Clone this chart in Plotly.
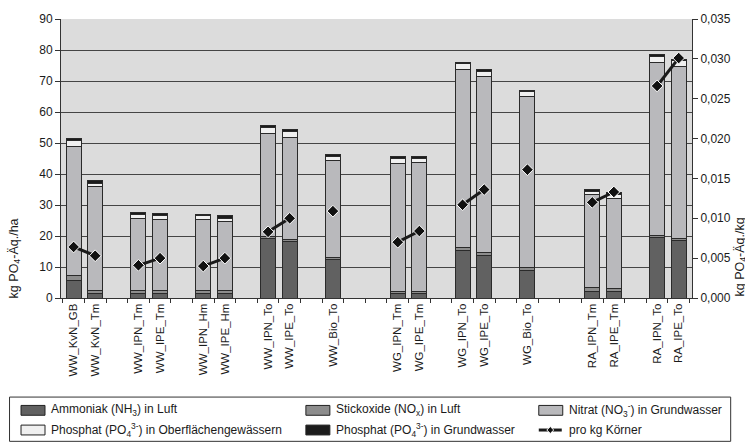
import plotly.graph_objects as go

# ---------------- data ----------------
categories = ["WW_KvN_GB", "WW_KvN_Tm", " ", "WW_IPN_Tm", "WW_IPE_Tm", "  ",
              "WW_IPN_Hm", "WW_IPE_Hm", "   ", "WW_IPN_To", "WW_IPE_To", "    ",
              "WW_Bio_To", "     ", "      ", "WG_IPN_Tm", "WG_IPE_Tm", "       ",
              "WG_IPN_To", "WG_IPE_To", "        ", "WG_Bio_To", "         ",
              "          ", "RA_IPN_Tm", "RA_IPE_Tm", "           ", "RA_IPN_To",
              "RA_IPE_To"]
N = None
ammoniak = [5.5, 1.5, N, 1.3, 1.5, N, 1.3, 1.5, N, 19.1, 18.1, N, 12.4, N, N,
            1.4, 1.4, N, 15.3, 13.7, N, 8.9, N, N, 2.2, 2.0, N, 19.5, 18.5]
stickoxide = [1.6, 1.0, N, 1.0, 0.9, N, 1.0, 0.8, N, 0.9, 0.8, N, 0.8, N, N,
              0.8, 0.7, N, 0.9, 1.0, N, 0.8, N, N, 1.2, 1.0, N, 0.8, 0.8]
nitrat = [41.9, 33.4, N, 23.4, 22.8, N, 23.1, 22.5, N, 33.2, 33.0, N, 31.2, N, N,
          41.3, 41.5, N, 57.5, 56.8, N, 55.4, N, N, 29.9, 29.1, N, 55.6, 55.4]
phosphat_ofw = [1.8, 1.1, N, 1.3, 1.4, N, 1.1, 1.0, N, 1.9, 1.8, N, 1.4, N, N,
                1.6, 1.4, N, 1.9, 1.6, N, 1.5, N, N, 1.1, 1.3, N, 1.9, 1.8]
phosphat_gw = [0.6, 0.8, N, 0.6, 0.6, N, 0.4, 0.7, N, 0.7, 0.6, N, 0.5, N, N,
               0.5, 0.6, N, 0.5, 0.6, N, 0.4, N, N, 0.7, 0.5, N, 0.7, 0.4]
pro_kg = [0.0064, 0.0053, N, 0.0041, 0.0050, N, 0.0040, 0.0050, N, 0.0083, 0.0100, N,
          0.0109, N, N, 0.0070, 0.0084, N, 0.0117, 0.0136, N, 0.0161, N, N,
          0.0120, 0.0133, N, 0.0266, 0.0301]

left_ticks = [0, 10, 20, 30, 40, 50, 60, 70, 80, 90]
right_ticks = [0.000, 0.005, 0.010, 0.015, 0.020, 0.025, 0.030, 0.035]

names = ["Ammoniak (NH<sub>3</sub>) in Luft",
         "Stickoxide (NO<sub>x</sub>) in Luft",
         "Nitrat (NO<sub>3</sub><sup>-</sup>) in Grundwasser",
         "Phosphat (PO<sub>4</sub><sup>3-</sup>) in Oberflächengewässern",
         "Phosphat (PO<sub>4</sub><sup>3-</sup>) in Grundwasser",
         "pro kg Körner"]
colors = ["#616161", "#8d8d8d", "#b9b9bc", "#f0f0f0", "#1c1c1c"]

# ---------------- layout geometry ----------------
W, H = 745, 448
L, R, T, B = 61, 692.3, 14.7, 298.3
FONT = "Liberation Sans, Arial, sans-serif"
TXT = "#1a1a1a"

def px(x):
    return (x - L) / (R - L)

def py(y):
    return (B - y) / (B - T)

fig = go.Figure()
series = [ammoniak, stickoxide, nitrat, phosphat_ofw, phosphat_gw]
for s, nm, c in zip(series, names[:5], colors):
    fig.add_trace(go.Bar(x=categories, y=s, name=nm, marker_color=c,
                         marker_line_color="#2a2a2a", marker_line_width=1,
                         showlegend=False))

fig.add_trace(go.Scatter(x=categories, y=pro_kg, name=names[5], yaxis="y2",
                         mode="lines+markers", connectgaps=False,
                         line=dict(color="#1a1a1a", width=3),
                         marker=dict(symbol="diamond", size=9, color="#111111",
                                     line=dict(color="white", width=1)),
                         showlegend=False))

shapes = []
annotations = []
# legend box
shapes.append(dict(type="rect", xref="paper", yref="paper",
                   x0=px(9.5), x1=px(731), y0=py(399), y1=py(444),
                   line=dict(color="#333333", width=1), fillcolor="white"))
legend_pos = [(21, 412.5), (306, 412.5), (539, 412.5),
              (21, 432.5), (306, 432.5), (539, 432.5)]
for i, (lx, ly) in enumerate(legend_pos):
    if i < 5:
        shapes.append(dict(type="rect", xref="paper", yref="paper",
                           x0=px(lx), x1=px(lx + 24), y0=py(ly - 5), y1=py(ly + 5),
                           line=dict(color="#222222", width=1),
                           fillcolor=colors[i]))
    else:
        shapes.append(dict(type="line", xref="paper", yref="paper",
                           x0=px(lx), x1=px(lx + 23), y0=py(ly), y1=py(ly),
                           line=dict(color="#1a1a1a", width=3)))
        cx = lx + 11.5
        shapes.append(dict(type="path", xref="paper", yref="paper",
                           path="M {} {} L {} {} L {} {} L {} {} Z".format(
                               px(cx - 3.5), py(ly), px(cx), py(ly - 3.5),
                               px(cx + 3.5), py(ly), px(cx), py(ly + 3.5)),
                           fillcolor="#111111", line=dict(color="white", width=1)))
    annotations.append(dict(xref="paper", yref="paper", x=px(lx + 28), y=py(ly),
                            text=names[i], showarrow=False, xanchor="left",
                            yanchor="middle",
                            font=dict(family=FONT, size=12, color=TXT)))

# axis titles
annotations.append(dict(xref="paper", yref="paper", x=px(15), y=py(258),
                        text="kg PO<sub>4</sub>-Äq./ha", textangle=-90,
                        showarrow=False, xanchor="center", yanchor="middle",
                        font=dict(family=FONT, size=12.5, color=TXT)))
annotations.append(dict(xref="paper", yref="paper", x=px(741.5), y=py(257),
                        text="kg PO<sub>4</sub>-Äq./kg", textangle=-90,
                        showarrow=False, xanchor="center", yanchor="middle",
                        font=dict(family=FONT, size=12.5, color=TXT)))

fig.update_layout(
    width=W, height=H,
    margin=dict(l=L, r=W - R, t=T, b=H - B, pad=0),
    paper_bgcolor="white", plot_bgcolor="#dcdcdc",
    barmode="stack", bargap=0.31,
    separators=",.",
    font=dict(family=FONT, size=12, color=TXT),
    showlegend=False,
    shapes=shapes, annotations=annotations,
    xaxis=dict(type="category", categoryorder="array", categoryarray=categories,
               range=[-0.583, 28.616], tickangle=-90, tickson="boundaries",
               ticks="outside", ticklen=4, tickcolor="#333333",
               showline=True, linecolor="#333333", linewidth=1,
               showgrid=False, tickfont=dict(family=FONT, size=11.5, color=TXT)),
    yaxis=dict(range=[0, 90], tickvals=left_ticks, showgrid=True,
               gridcolor="#454545", gridwidth=1, zeroline=False,
               showline=True, linecolor="#333333", linewidth=1,
               ticks="outside", ticklen=5, tickcolor="#333333",
               tickfont=dict(family=FONT, size=12, color=TXT)),
    yaxis2=dict(range=[0, 0.035], tickvals=right_ticks, tickformat=".3f",
                overlaying="y", side="right", showgrid=False, zeroline=False,
                showline=True, linecolor="#333333", linewidth=1,
                ticks="outside", ticklen=5, tickcolor="#333333",
                tickfont=dict(family=FONT, size=12, color=TXT)),
)

fig.write_html("out.html", config={"displayModeBar": False},
               post_script="document.body.style.margin='0';document.body.style.padding='0';")
